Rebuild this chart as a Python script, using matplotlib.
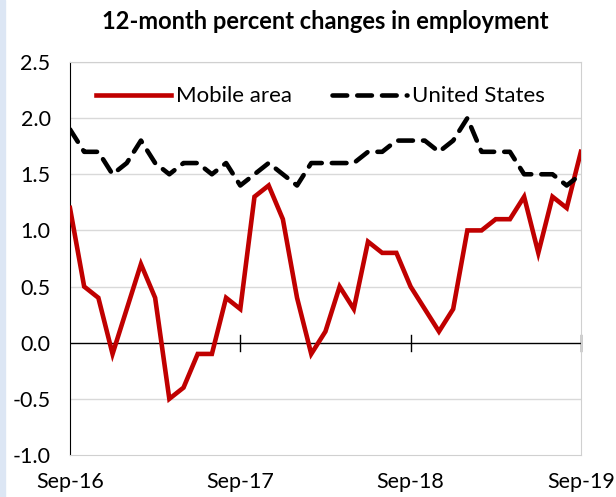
import matplotlib.pyplot as plt
import matplotlib.patches as patches
import numpy as np

plt.rcParams['font.family'] = ['Lato', 'DejaVu Sans']

# monthly, Sep-16 .. Sep-19
months = np.arange(37)
mobile = [1.2, 0.5, 0.4, -0.1, 0.3, 0.7, 0.4, -0.5, -0.4, -0.1, -0.1, 0.4, 0.3,
          1.3, 1.4, 1.1, 0.4, -0.1, 0.1, 0.5, 0.3, 0.9, 0.8, 0.8, 0.5, 0.3,
          0.1, 0.3, 1.0, 1.0, 1.1, 1.1, 1.3, 0.8, 1.3, 1.2, 1.7]
usa = [1.9, 1.7, 1.7, 1.5, 1.6, 1.8, 1.6, 1.5, 1.6, 1.6, 1.5, 1.6, 1.4,
       1.5, 1.6, 1.5, 1.4, 1.6, 1.6, 1.6, 1.6, 1.7, 1.7, 1.8, 1.8, 1.8,
       1.7, 1.8, 2.0, 1.7, 1.7, 1.7, 1.5, 1.5, 1.5, 1.4, 1.5]
tick_pos = [0, 12, 24, 36]
tick_labels = ['Sep-16', 'Sep-17', 'Sep-18', 'Sep-19']

fig = plt.figure(figsize=(6.16, 4.97), dpi=100)
ax = fig.add_axes([0.1136, 0.0845, 0.8294, 0.7908])

# light blue strip on left edge of the image
fig.patches.append(patches.Rectangle((0, 0), 0.008, 1, transform=fig.transFigure,
                                     color='#dce6f4', zorder=0))

for y in np.arange(-0.5, 2.51, 0.5):
    if abs(y) > 1e-9:
        ax.axhline(y, color='#d9d9d9', lw=1.0, zorder=1)
ax.axhline(0, color='black', lw=1.0, zorder=2)
for t in tick_pos[1:]:
    ax.plot([t, t], [-0.07, 0.07], color='black', lw=1.0, zorder=2, clip_on=False)

ax.plot(months, mobile, color='#c00000', lw=3.3, label='Mobile area', zorder=3,
        solid_joinstyle='miter')
ax.plot(months, usa, color='black', lw=3.3, ls=(0, (3.2, 2.2)), label='United States',
        zorder=3, dash_capstyle='round')

ax.set_xlim(0, 36)
ax.set_ylim(-1.0, 2.5)
ax.set_yticks(np.arange(-1.0, 2.51, 0.5))
ax.set_yticklabels(['%.1f' % v for v in np.arange(-1.0, 2.51, 0.5)])
ax.set_xticks(tick_pos)
ax.set_xticklabels(tick_labels)
ax.tick_params(axis='both', length=0, labelsize=15.5, colors='black')
ax.tick_params(axis='x', pad=12)
ax.tick_params(axis='y', pad=14)

ax.spines['left'].set_color('black')
for s in ['top', 'right', 'bottom']:
    ax.spines[s].set_color('#d0d0d0')

ax.set_title('12-month percent changes in employment', fontsize=17, fontweight='bold',
             pad=24)

ax.legend(loc='upper center', bbox_to_anchor=(0.49, 1.0), ncol=2, frameon=False,
          fontsize=16, handlelength=3.4, handletextpad=0.2, columnspacing=1.8,
          borderaxespad=0.7)

fig.savefig('out.png', dpi=100)
